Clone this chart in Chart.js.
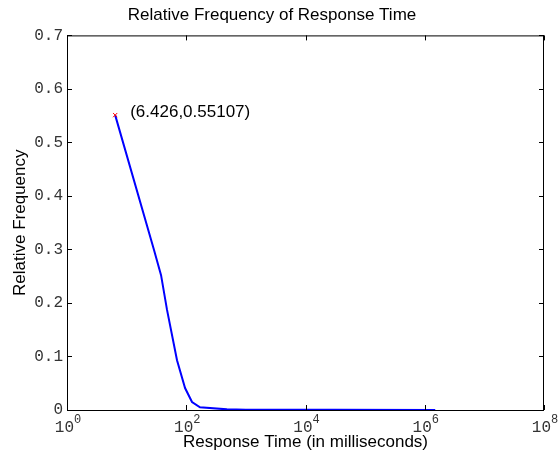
<!DOCTYPE html>
<html>
<head>
<meta charset="utf-8">
<script src="https://cdn.jsdelivr.net/npm/chart.js@4/dist/chart.umd.min.js"></script>
<style>
  body { margin: 0; background: #fff; }
  #wrap { width: 559px; height: 459px; }
</style>
</head>
<body>
<div id="wrap"><canvas id="chart" width="559" height="459"></canvas></div>
<script>
// valeurs
const responseTimes = [6.426, 28.8, 37.8, 47.6, 70, 95.5, 125, 170, 480, 1000, 10000, 30000, 1500000];
const relFreq = [0.55107, 0.299, 0.252, 0.187, 0.093, 0.041, 0.015, 0.005, 0.0012, 0.0006, 0.0003, 0.0004, 0.0001];
const xTickExps = [0, 2, 4, 6, 8];
const yTicks = [0, 0.1, 0.2, 0.3, 0.4, 0.5, 0.6, 0.7];
const peakLabel = '(6.426,0.55107)';

const sans = '"Liberation Sans", Arial, sans-serif';
const mono = '"Liberation Mono", "Courier New", monospace';

// cadre, petites graduations, labels 10^n et texte de l'annotation
const framePlugin = {
    id: 'frame',
    afterDraw(chart) {
        const ctx = chart.ctx;
        const a = chart.chartArea;
        const xs = chart.scales.x;
        const ys = chart.scales.y;
        ctx.save();
        ctx.strokeStyle = '#000';
        ctx.lineWidth = 1;
        ctx.strokeRect(a.left + 0.5, a.top + 0.5, a.right - a.left - 1, a.bottom - a.top);

        ctx.beginPath();
        xTickExps.forEach(e => {
            const px = Math.round(xs.getPixelForValue(Math.pow(10, e))) + 0.5;
            ctx.moveTo(px, a.bottom); ctx.lineTo(px, a.bottom - 5);
            ctx.moveTo(px, a.top); ctx.lineTo(px, a.top + 5);
        });
        yTicks.forEach(v => {
            const py = Math.round(ys.getPixelForValue(v)) + 0.5;
            ctx.moveTo(a.left, py); ctx.lineTo(a.left + 5, py);
            ctx.moveTo(a.right, py); ctx.lineTo(a.right - 5, py);
        });
        ctx.stroke();

        // labels de l'axe x
        ctx.fillStyle = '#333';
        ctx.textBaseline = 'middle';
        xTickExps.forEach(e => {
            const px = xs.getPixelForValue(Math.pow(10, e));
            ctx.font = '16px ' + mono;
            const w = ctx.measureText('10').width;
            ctx.font = '12px ' + mono;
            const we = ctx.measureText(String(e)).width;
            const x0 = px - (w + we) / 2 + 1;
            ctx.font = '16px ' + mono;
            ctx.textAlign = 'left';
            ctx.fillText('10', x0, a.bottom + 18);
            ctx.font = '12px ' + mono;
            ctx.fillText(String(e), x0 + w, a.bottom + 10);
        });

        // titres des axes
        ctx.fillStyle = '#000';
        ctx.font = '17px ' + sans;
        ctx.textAlign = 'center';
        ctx.fillText('Response Time (in milliseconds)', (a.left + a.right) / 2, a.bottom + 32);
        ctx.save();
        ctx.translate(20, (a.top + a.bottom) / 2);
        ctx.rotate(-Math.PI / 2);
        ctx.fillText('Relative Frequency', 0, 0);
        ctx.restore();

        // annotation du premier point
        const px = xs.getPixelForValue(responseTimes[0]);
        const py = ys.getPixelForValue(relFreq[0]);
        ctx.textAlign = 'left';
        ctx.fillText(peakLabel, px + 15, py - 3);
        ctx.restore();
    }
};

new Chart(document.getElementById('chart'), {
    type: 'line',
    data: {
        datasets: [
            {
                data: [{ x: responseTimes[0], y: relFreq[0] }],
                showLine: false,
                pointStyle: 'crossRot',
                pointRadius: 3,
                borderColor: '#ff0000',
                borderWidth: 1
            },
            {
                data: responseTimes.map((t, i) => ({ x: t, y: relFreq[i] })),
                borderColor: '#0000ff',
                borderWidth: 2,
                pointRadius: 0,
                tension: 0
            }
        ]
    },
    options: {
        responsive: false,
        animation: false,
        layout: { padding: { left: 0, right: 15, top: 0, bottom: 0 } },
        plugins: {
            legend: { display: false },
            tooltip: { enabled: false },
            title: {
                display: true,
                text: 'Relative Frequency of Response Time',
                color: '#000',
                font: { family: sans, size: 17, weight: 'normal' },
                padding: { top: 5, bottom: 10 }
            }
        },
        scales: {
            x: {
                type: 'logarithmic',
                min: 1,
                max: 1e8,
                grid: { display: false, drawTicks: false },
                border: { display: false },
                ticks: { display: false },
                afterBuildTicks: s => { s.ticks = xTickExps.map(e => ({ value: Math.pow(10, e) })); },
                afterFit: s => { s.height = 49; }
            },
            y: {
                min: 0,
                max: 0.7,
                grid: { display: false, drawTicks: false },
                border: { display: false },
                afterBuildTicks: s => { s.ticks = yTicks.map(v => ({ value: v })); },
                ticks: {
                    padding: 4,
                    color: '#333',
                    font: { family: mono, size: 16 },
                    callback: v => v === 0 ? '0' : v.toFixed(1)
                },
                afterFit: s => { s.width = 67; }
            }
        }
    },
    plugins: [framePlugin]
});
</script>
</body>
</html>
